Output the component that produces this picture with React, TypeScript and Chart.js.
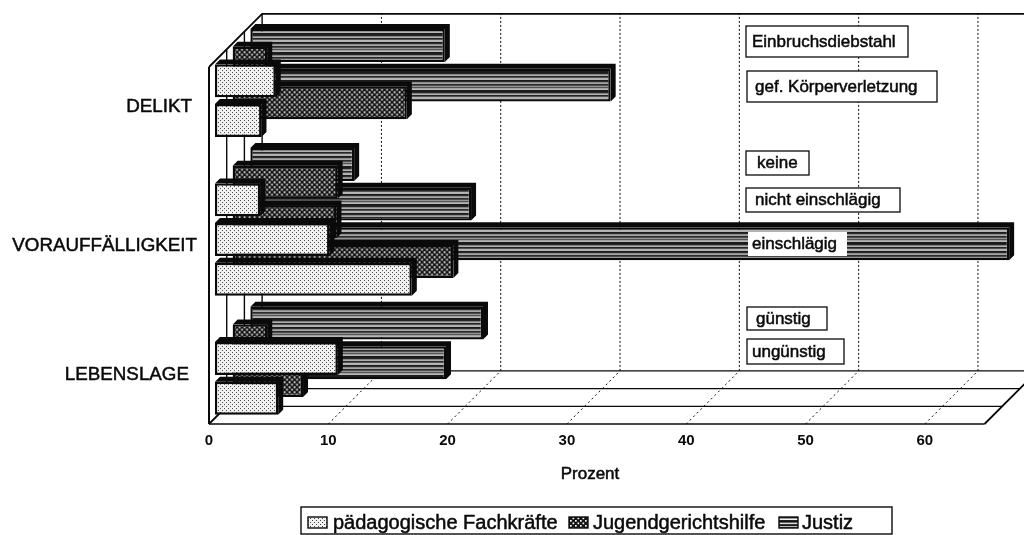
import React, { useEffect, useRef } from "react";
import { Chart, registerables } from "chart.js";

Chart.register(...registerables);

const rows = ["Einbruchsdiebstahl", "gef. Körperverletzung", "", "keine", "nicht einschlägig", "einschlägig", "", "günstig", "ungünstig"];
const seriesNames = ["pädagogische Fachkräfte", "Jugendgerichtshilfe", "Justiz"];
const paedagogen = [5.1, 3.9, null, 3.8, 9.6, 16.5, null, 10.3, 5.3];
const jugendhilfe = [2.9, 14.6, null, 8.8, 8.7, 18.5, null, 2.9, 5.9];
const justiz = [16.3, 30.2, null, 8.7, 18.5, 63.6, null, 19.5, 16.4];
const axisTicks = [0, 10, 20, 30, 40, 50, 60];
const groupNames = ["DELIKT", "VORAUFFÄLLIGKEIT", "LEBENSLAGE"];
const axisTitle = "Prozent";

const FONT = '"Liberation Sans", Arial, sans-serif';
const INK = "#0a0a0a";
const SLAB = 17.7;
const SLABS = 3;
const BAR_DEPTH = 5;

// layout tables for the text that sits on top of the plot
const groupLayout = [
  { row: 0.5, right: 192 },
  { row: 4, right: 197 },
  { row: 7.25, right: 189 },
];
const noteLayout = [
  { row: 0, x: 746, y: 26, w: 162, h: 31, tx: 752, line: true },
  { row: 1, x: 747, y: 71, w: 190, h: 31, tx: 755, line: true },
  { row: 3, x: 746, y: 151, w: 63, h: 24, tx: 757, line: true },
  { row: 4, x: 746, y: 188, w: 154, h: 24, tx: 755, line: true },
  { row: 5, x: 748, y: 232, w: 99, h: 24, tx: 752, line: false },
  { row: 7, x: 747, y: 307, w: 80, h: 23, tx: 756, line: true },
  { row: 8, x: 747, y: 339, w: 97, h: 25, tx: 752, line: true },
];
const legendBox = { x: 301, y: 507, w: 591, h: 27 };
const legendLayout = [
  { swatch: 308, text: 333 },
  { swatch: 569, text: 593 },
  { swatch: 779, text: 802 },
];
const titleSpot = { x: 590, y: 474 };

function tile(w: number, h: number, paint: (c: CanvasRenderingContext2D) => void) {
  const c = document.createElement("canvas");
  c.width = w;
  c.height = h;
  const g = c.getContext("2d")!;
  paint(g);
  return g.createPattern(c, "repeat")!;
}

function makePatterns() {
  const light = tile(4, 4, (g) => {
    g.fillStyle = "#f2f2f2";
    g.fillRect(0, 0, 4, 4);
    g.fillStyle = "#444";
    g.fillRect(0, 0, 1, 1);
    g.fillRect(2, 2, 1, 1);
  });
  const mesh = tile(5, 5, (g) => {
    g.fillStyle = "#141414";
    g.fillRect(0, 0, 5, 5);
    g.fillStyle = "#ffffff";
    g.fillRect(0, 0, 1.7, 1.7);
    g.fillRect(2.5, 2.5, 1.7, 1.7);
  });
  const bandShades = ["#111", "#555", "#eee", "#222", "#333", "#999", "#f4f4f4", "#222", "#111", "#666", "#ddd", "#333", "#1a1a1a", "#bbb", "#444", "#777", "#fff", "#1a1a1a", "#222"];
  const bands = tile(2, bandShades.length, (g) => {
    bandShades.forEach((s, i) => {
      g.fillStyle = s;
      g.fillRect(0, i, 2, 1);
    });
  });
  return [light, mesh, bands];
}

function heavyText(ctx: CanvasRenderingContext2D, s: string, x: number, y: number) {
  ctx.fillText(s, x, y);
  ctx.lineWidth = 0.5;
  ctx.strokeStyle = INK;
  ctx.strokeText(s, x, y);
}

const scene3d = {
  id: "scene3d",
  beforeDatasetsDraw(chart: any) {
    const { ctx, chartArea: a, scales } = chart;
    const depth = SLAB * SLABS;
    ctx.save();
    ctx.strokeStyle = INK;
    // floor lines
    ctx.lineWidth = 1.3;
    for (let k = 0; k <= SLABS; k++) {
      const d = SLAB * k;
      ctx.beginPath();
      ctx.moveTo(a.left + d, a.bottom - d);
      ctx.lineTo(a.right + d, a.bottom - d);
      ctx.stroke();
    }
    // floor right edge and left edge, wall top
    ctx.lineWidth = 1.8;
    ctx.beginPath();
    ctx.moveTo(a.right, a.bottom);
    ctx.lineTo(a.right + depth, a.bottom - depth);
    ctx.moveTo(a.left, a.bottom);
    ctx.lineTo(a.left + depth, a.bottom - depth);
    ctx.moveTo(a.left, a.top);
    ctx.lineTo(a.left + depth, a.top - depth);
    ctx.lineTo(a.right + depth, a.top - depth);
    ctx.stroke();
    // left wall divisions
    for (let k = 0; k <= SLABS; k++) {
      const d = SLAB * k;
      ctx.lineWidth = k === 0 ? 2 : 1.4;
      ctx.beginPath();
      ctx.moveTo(a.left + d, a.top - d);
      ctx.lineTo(a.left + d, a.bottom - d);
      ctx.stroke();
    }
    // dotted grid on the floor and on the back wall
    ctx.lineWidth = 1;
    for (const v of axisTicks.slice(1)) {
      const x = scales.x.getPixelForValue(v);
      ctx.setLineDash([2, 3]);
      ctx.beginPath();
      ctx.moveTo(x, a.bottom);
      ctx.lineTo(x + depth, a.bottom - depth);
      ctx.stroke();
      ctx.setLineDash([2, 2]);
      ctx.beginPath();
      ctx.moveTo(x + depth, a.bottom - depth);
      ctx.lineTo(x + depth, a.top - depth);
      ctx.stroke();
    }
    ctx.restore();
  },
  beforeDatasetDraw(chart: any, args: any) {
    const { ctx } = chart;
    const off = SLAB * args.index + (SLAB - BAR_DEPTH) / 2 - 0.4;
    const values = chart.data.datasets[args.index].data;
    ctx.save();
    ctx.translate(off, -off);
    ctx.fillStyle = INK;
    args.meta.data.forEach((el: any, i: number) => {
      if (values[i] == null) return;
      const p = el.getProps(["x", "y", "base", "height"], true);
      const t = p.y - p.height / 2;
      const b = p.y + p.height / 2;
      const d = BAR_DEPTH;
      ctx.beginPath();
      ctx.moveTo(p.base, t);
      ctx.lineTo(p.base + d, t - d);
      ctx.lineTo(p.x + d, t - d);
      ctx.lineTo(p.x + d, b - d);
      ctx.lineTo(p.x, b);
      ctx.lineTo(p.x, t);
      ctx.closePath();
      ctx.fill();
    });
  },
  afterDatasetDraw(chart: any) {
    chart.ctx.restore();
  },
  afterDraw(chart: any) {
    const { ctx, scales } = chart;
    ctx.save();
    ctx.fillStyle = INK;
    ctx.textBaseline = "middle";

    // group captions
    ctx.font = `18.8px ${FONT}`;
    ctx.textAlign = "right";
    groupNames.forEach((name, i) => {
      heavyText(ctx, name, groupLayout[i].right, scales.y.getPixelForValue(groupLayout[i].row));
    });

    // axis caption
    ctx.font = `17px ${FONT}`;
    ctx.textAlign = "center";
    heavyText(ctx, axisTitle, titleSpot.x, titleSpot.y);

    // row captions
    ctx.font = `17px ${FONT}`;
    ctx.textAlign = "left";
    for (const n of noteLayout) {
      ctx.fillStyle = "#fff";
      ctx.fillRect(n.x, n.y, n.w, n.h);
      if (n.line) {
        ctx.strokeStyle = INK;
        ctx.lineWidth = 1.3;
        ctx.strokeRect(n.x, n.y, n.w, n.h);
      }
      ctx.fillStyle = INK;
      heavyText(ctx, rows[n.row], n.tx, n.y + n.h / 2 + 0.5);
    }

    // legend
    const lb = legendBox;
    ctx.strokeStyle = INK;
    ctx.lineWidth = 1.4;
    ctx.strokeRect(lb.x, lb.y, lb.w, lb.h);
    ctx.font = `20px ${FONT}`;
    chart.data.datasets.forEach((ds: any, i: number) => {
      const l = legendLayout[i];
      ctx.fillStyle = ds.backgroundColor;
      ctx.fillRect(l.swatch, lb.y + 10, 19, 11);
      ctx.strokeStyle = INK;
      ctx.lineWidth = 1.4;
      ctx.strokeRect(l.swatch, lb.y + 10, 19, 11);
      ctx.fillStyle = INK;
      heavyText(ctx, ds.label, l.text, lb.y + 16);
    });
    ctx.restore();
  },
};

export default function App() {
  const ref = useRef<HTMLCanvasElement>(null);

  useEffect(() => {
    const patterns = makePatterns();
    const series = [paedagogen, jugendhilfe, justiz];
    const chart = new Chart(ref.current!, {
      type: "bar",
      data: {
        labels: rows,
        datasets: series.map((values, i) => ({
          label: seriesNames[i],
          data: values,
          backgroundColor: patterns[i],
          borderColor: INK,
          borderWidth: 2.4,
          borderSkipped: false,
          barPercentage: 0.83,
          categoryPercentage: 1,
          clip: false,
        })),
      } as any,
      options: {
        indexAxis: "y",
        responsive: false,
        animation: false,
        layout: { padding: { left: 0, top: 67, right: 39.5, bottom: 0 } },
        datasets: { bar: { grouped: false } },
        plugins: { legend: { display: false }, tooltip: { enabled: false }, title: { display: false } },
        scales: {
          x: {
            type: "linear",
            min: 0,
            max: 65,
            grid: { display: false },
            border: { display: false },
            afterFit: (s: any) => {
              s.height = 111;
            },
            afterBuildTicks: (s: any) => {
              s.ticks = axisTicks.map((value) => ({ value }));
            },
            ticks: {
              color: INK,
              padding: 0,
              maxRotation: 0,
              font: { family: FONT, size: 15, weight: "bold" },
            },
          },
          y: {
            type: "category",
            grid: { display: false },
            border: { display: false },
            ticks: { display: false },
            afterFit: (s: any) => {
              s.width = 209;
            },
          },
        },
      } as any,
      plugins: [scene3d as any],
    });
    return () => chart.destroy();
  }, []);

  return (
    <canvas
      ref={ref}
      width={1024}
      height={535}
      style={{ position: "absolute", left: 0, top: 0, width: 1024, height: 535, background: "#fff" }}
    />
  );
}
